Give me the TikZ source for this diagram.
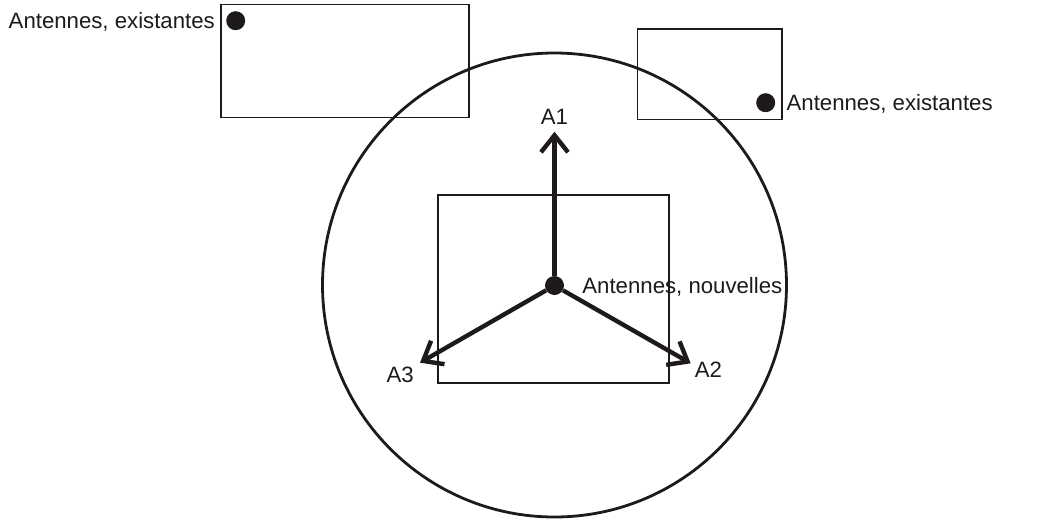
\documentclass[tikz,border=0pt]{standalone}
\usepackage{fontspec}
\setmainfont{Liberation Sans}
\usetikzlibrary{arrows.meta,positioning}
\definecolor{ink}{RGB}{30,26,27}

\begin{document}
\begin{tikzpicture}[x=1pt, y=-1pt, font=\fontsize{22.2}{26}\selectfont, color=ink,
        cadre/.style={draw, line width=1.4pt},
        antenne/.style={circle, fill, inner sep=0pt, minimum size=19pt},
        fleche/.style={line width=4.4pt, -{Straight Barb[length=17pt, width=27pt]}},
        etiquette/.style={inner sep=0pt, text height=15.8pt, text depth=0pt}]
    \useasboundingbox (0,0) rectangle (1050,520);
    % zones
    \draw [cadre] (221,4.5) rectangle (469,117.5);
    \draw [cadre] (637.5,29) rectangle (782,119.5);
    \draw [cadre] (438,195) rectangle (669,383);
    \draw [line width=2.8pt] (554.5,285) circle (232);
    % antennes
    \node [antenne] (ex1) at (235.7,20.7) {};
    \node [antenne] (ex2) at (765.7,102.7) {};
    \node [antenne] (nv)  at (554.5,285.5) {};
    \node [etiquette, left=11pt of ex1]  (lex1) {Antennes, existantes};
    \node [etiquette, right=11pt of ex2] (lex2) {Antennes, existantes};
    \node [etiquette, right=18pt of nv]  (lnv)  {Antennes, nouvelles};
    % directions
    \coordinate (t1) at (554.5,131.7);
    \coordinate (t2) at (690.7,363.3);
    \coordinate (t3) at (420,362.7);
    \draw [fleche] (nv) -- (t1);
    \draw [fleche] (nv) -- (t2);
    \draw [fleche] (nv) -- (t3);
    \node [etiquette, above=7pt of t1] (a1) {A1};
    \node [etiquette, below right=-2pt and 4pt of t2] (a2) {A2};
    \node [etiquette, below left=3.6pt and 6pt of t3] (a3) {A3};
\end{tikzpicture}
\end{document}
